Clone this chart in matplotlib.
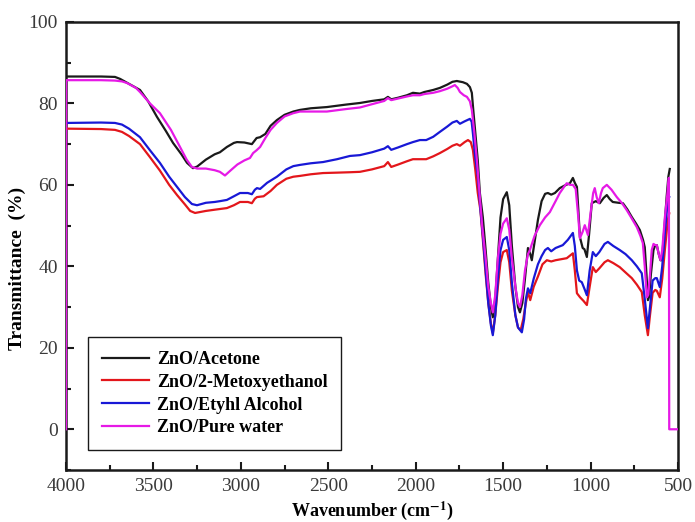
import matplotlib
matplotlib.use("Agg")
import matplotlib.pyplot as plt
from matplotlib.ticker import MultipleLocator

plt.rcParams['font.family'] = ['Liberation Serif', 'DejaVu Serif']
plt.rcParams['mathtext.fontset'] = 'stix'

# ZnO/Acetone (black)
wn_acetone = [4000, 3800, 3720, 3690, 3640, 3577, 3530, 3480, 3430, 3388, 3340, 3308, 3274, 3250, 3200,
              3150, 3120, 3080, 3040, 3022, 2980, 2937, 2910, 2890, 2860, 2830, 2794, 2750, 2700, 2662,
              2600, 2508, 2400, 2319, 2250, 2180, 2159, 2140, 2100, 2050, 2016, 1976, 1950, 1900, 1862,
              1820, 1790, 1765, 1730, 1707, 1690, 1679, 1670, 1662, 1645, 1633, 1616, 1600, 1585, 1570,
              1559, 1545, 1530, 1515, 1500, 1479, 1465, 1450, 1430, 1415, 1404, 1390, 1375, 1358, 1345,
              1336, 1320, 1301, 1280, 1260, 1244, 1225, 1204, 1176, 1150, 1118, 1101, 1090, 1078, 1070,
              1061, 1045, 1035, 1021, 1008, 993, 970, 947, 925, 907, 890, 873, 840, 815, 790,
              764, 740, 718, 700, 690, 680, 672, 665, 655, 640, 630, 621, 610, 600, 592,
              580, 565, 555, 547]
t_acetone = [86.6, 86.6, 86.5, 86.0, 84.8, 83.3, 80.5, 76.7, 73.3, 70.3, 67.5, 65.4, 64.1, 64.5, 66.2,
             67.5, 68.0, 69.3, 70.3, 70.5, 70.4, 70.0, 71.5, 71.7, 72.5, 74.5, 75.9, 77.2, 78.0, 78.4,
             78.8, 79.1, 79.7, 80.1, 80.6, 81.0, 81.6, 81.0, 81.4, 82.0, 82.6, 82.4, 82.8, 83.3, 83.8,
             84.6, 85.3, 85.5, 85.2, 84.8, 84.0, 82.6, 78.0, 74.2, 66.0, 58.0, 52.0, 44.0, 36.0, 30.0,
             27.5, 32.0, 42.0, 52.0, 56.5, 58.2, 55.0, 45.0, 35.0, 30.0, 28.7, 31.0, 37.0, 44.5, 43.0,
             41.5, 46.0, 51.4, 56.0, 57.8, 58.0, 57.6, 58.0, 59.2, 59.8, 60.4, 61.7, 60.5, 59.5, 54.0,
             47.2, 44.5, 44.2, 42.3, 48.0, 55.5, 56.0, 55.5, 56.8, 57.5, 56.5, 55.8, 55.6, 55.5, 54.0,
             52.1, 50.5, 48.9, 46.5, 44.7, 38.0, 31.7, 32.5, 38.0, 44.0, 45.2, 45.2, 43.0, 41.5, 41.5,
             48.0, 57.0, 62.0, 63.9]

# ZnO/2-Metoxyethanol (red)
wn_metoxy = [4000, 3800, 3720, 3680, 3640, 3577, 3520, 3463, 3410, 3365, 3320, 3290, 3262, 3200, 3150,
             3080, 3040, 3005, 2960, 2937, 2920, 2908, 2870, 2830, 2794, 2740, 2700, 2662, 2600, 2530,
             2450, 2376, 2319, 2250, 2180, 2159, 2140, 2100, 2050, 2016, 1976, 1940, 1900, 1862, 1820,
             1790, 1765, 1747, 1720, 1701, 1685, 1673, 1660, 1645, 1630, 1615, 1600, 1585, 1570, 1559,
             1545, 1530, 1515, 1500, 1479, 1465, 1450, 1430, 1415, 1400, 1385, 1370, 1358, 1345, 1325,
             1301, 1275, 1250, 1225, 1200, 1136, 1101, 1090, 1078, 1060, 1040, 1021, 1005, 987, 970,
             950, 920, 901, 870, 833, 800, 764, 735, 707, 690, 672, 660, 645, 630, 621,
             604, 590, 575, 558, 550]
t_metoxy = [73.8, 73.7, 73.5, 73.0, 72.0, 70.0, 66.8, 63.5, 60.0, 57.5, 55.2, 53.6, 53.1, 53.6, 53.9,
            54.3, 55.0, 55.8, 55.8, 55.5, 56.6, 57.0, 57.2, 58.5, 60.0, 61.5, 62.0, 62.2, 62.6, 62.9,
            63.0, 63.1, 63.2, 63.8, 64.6, 65.6, 64.4, 65.0, 65.8, 66.3, 66.3, 66.3, 67.0, 67.8, 68.8,
            69.6, 70.0, 69.6, 70.5, 71.0, 70.5, 68.6, 64.0, 58.0, 53.8, 46.0, 38.0, 31.0, 26.0, 23.6,
            28.0, 35.0, 41.0, 43.5, 44.0, 41.0, 34.0, 28.0, 25.0, 24.3, 27.0, 31.0, 33.7, 31.7, 35.0,
            37.5, 40.5, 41.5, 41.2, 41.5, 42.0, 43.2, 39.0, 33.4, 32.4, 31.5, 30.5, 35.0, 39.8, 38.6,
            39.5, 41.0, 41.5, 40.8, 39.8, 38.5, 37.1, 35.5, 33.7, 28.0, 23.1, 28.0, 33.5, 34.2, 34.0,
            32.4, 37.0, 44.0, 51.4, 53.0]

# ZnO/Etyhl Alcohol (blue)
wn_ethyl = [4000, 3800, 3720, 3680, 3640, 3577, 3520, 3463, 3410, 3365, 3320, 3280, 3251, 3200, 3150,
            3120, 3080, 3040, 3005, 2960, 2937, 2920, 2908, 2890, 2850, 2794, 2740, 2700, 2662, 2600,
            2530, 2450, 2376, 2319, 2250, 2180, 2159, 2140, 2100, 2050, 2016, 1976, 1940, 1900, 1862,
            1820, 1790, 1765, 1747, 1720, 1690, 1680, 1673, 1660, 1645, 1630, 1615, 1600, 1585, 1570,
            1559, 1545, 1530, 1515, 1500, 1479, 1465, 1450, 1430, 1415, 1393, 1380, 1370, 1358, 1345,
            1325, 1301, 1280, 1260, 1244, 1225, 1200, 1159, 1130, 1101, 1090, 1078, 1065, 1050, 1035,
            1021, 1005, 987, 970, 950, 920, 901, 870, 833, 800, 764, 735, 707, 690, 672,
            660, 645, 630, 621, 604, 590, 575, 558, 550]
t_ethyl = [75.2, 75.3, 75.2, 74.8, 73.8, 71.7, 68.5, 65.4, 62.0, 59.5, 57.0, 55.3, 55.0, 55.6, 55.8,
           56.0, 56.3, 57.2, 58.0, 58.0, 57.7, 58.8, 59.2, 59.0, 60.5, 62.0, 63.8, 64.6, 64.9, 65.3,
           65.6, 66.3, 67.1, 67.3, 68.0, 68.9, 69.5, 68.6, 69.2, 70.0, 70.5, 71.0, 71.0, 71.8, 73.0,
           74.3, 75.3, 75.7, 75.0, 75.6, 76.2, 75.5, 72.7, 67.0, 62.0, 54.0, 47.0, 39.0, 31.0, 25.5,
           23.1, 28.0, 37.0, 44.0, 46.5, 47.2, 44.0, 36.0, 28.0, 25.0, 23.8, 27.0, 32.0, 34.6, 33.4,
           37.0, 40.5, 42.5, 44.0, 44.5, 43.7, 44.5, 45.2, 46.5, 48.2, 45.0, 39.0, 36.5, 36.1, 34.5,
           32.9, 39.0, 43.5, 42.5, 43.5, 45.5, 46.0, 45.0, 44.0, 43.0, 41.5, 40.0, 38.3, 32.0, 24.8,
           30.0, 36.5, 37.1, 37.1, 34.9, 40.0, 48.0, 56.3, 57.0]

# ZnO/Pure water (magenta)
wn_water = [4000, 3999, 3800, 3720, 3680, 3651, 3600, 3577, 3520, 3463, 3400, 3348, 3310, 3280, 3250,
            3200, 3150, 3120, 3091, 3060, 3020, 2980, 2948, 2930, 2910, 2890, 2860, 2830, 2794, 2750,
            2700, 2662, 2600, 2508, 2400, 2319, 2250, 2180, 2159, 2140, 2100, 2050, 2016, 1976, 1950,
            1900, 1862, 1820, 1790, 1776, 1760, 1747, 1725, 1707, 1690, 1679, 1665, 1650, 1635, 1620,
            1600, 1585, 1570, 1559, 1545, 1530, 1515, 1500, 1479, 1465, 1450, 1430, 1415, 1404, 1390,
            1375, 1358, 1347, 1320, 1290, 1260, 1233, 1200, 1176, 1150, 1136, 1118, 1101, 1085, 1070,
            1061, 1045, 1033, 1015, 1000, 985, 976, 965, 953, 940, 930, 907, 880, 850, 820,
            793, 765, 735, 715, 701, 690, 678, 670, 660, 650, 640, 630, 621, 610, 600,
            590, 575, 560, 552, 550, 500]
t_water = [0.0, 85.7, 85.7, 85.6, 85.4, 85.0, 83.8, 82.8, 80.0, 77.6, 73.5, 69.3, 66.2, 64.4, 64.0,
           64.0, 63.6, 63.2, 62.3, 63.5, 65.0, 66.0, 66.6, 67.8, 68.5, 69.3, 71.5, 73.5, 75.2, 76.8,
           77.6, 78.0, 78.0, 78.0, 78.6, 79.0, 79.8, 80.6, 81.3, 80.8, 81.2, 81.7, 82.0, 82.0, 82.3,
           82.6, 83.0, 83.6, 84.2, 84.5, 83.8, 82.8, 82.0, 81.6, 80.5, 78.4, 73.0, 66.0, 58.0, 50.0,
           42.0, 35.0, 31.0, 28.7, 33.0, 42.0, 48.0, 50.5, 51.8, 49.0, 42.0, 35.0, 31.0, 30.0, 33.0,
           39.0, 43.0, 44.0, 47.5, 50.1, 52.0, 53.3, 56.0, 58.0, 59.6, 60.4, 60.0, 60.0, 59.0, 52.0,
           46.9, 48.5, 50.1, 47.7, 53.0, 58.0, 59.2, 57.0, 55.5, 58.0, 59.2, 60.0, 58.8, 57.0, 55.5,
           53.8, 51.8, 49.6, 47.5, 45.7, 40.0, 32.4, 33.0, 38.0, 44.0, 45.5, 45.2, 45.2, 43.0, 41.5,
           44.0, 52.0, 58.0, 61.7, 0.0, 0.0]

fig = plt.figure(figsize=(6.95, 5.22), dpi=100)
ax = fig.add_axes([0.095, 0.0996, 0.8805, 0.8584])

ax.plot(wn_acetone, t_acetone, color='#1a1a1a', lw=1.6, label='ZnO/Acetone', zorder=3)
ax.plot(wn_metoxy, t_metoxy, color='#e3161b', lw=1.6, label='ZnO/2-Metoxyethanol', zorder=3)
ax.plot(wn_ethyl, t_ethyl, color='#1818d6', lw=1.6, label='ZnO/Etyhl Alcohol', zorder=3)
ax.plot(wn_water, t_water, color='#e619e6', lw=1.6, label='ZnO/Pure water', zorder=3)

ax.set_xlim(4000, 500)
ax.set_ylim(-10, 100)
ax.xaxis.set_major_locator(MultipleLocator(500))
ax.xaxis.set_minor_locator(MultipleLocator(250))
ax.yaxis.set_major_locator(MultipleLocator(20))
ax.yaxis.set_minor_locator(MultipleLocator(10))
ax.tick_params(which='both', direction='in', top=False, right=False, width=1.5,
               colors='#1a1a1a', labelcolor='#3a3a3a', labelsize=14)
ax.tick_params(which='major', length=6, pad=6)
ax.tick_params(which='minor', length=3.5)
for sp in ax.spines.values():
    sp.set_linewidth(1.8)
    sp.set_color('#1a1a1a')

ax.set_xlabel('Wavenumber (cm$^{\\mathbf{-1}}$)', fontsize=13, fontweight='bold')
ax.xaxis.set_label_coords(0.5, -0.066)
ax.set_ylabel('Transmittance  (%)', fontsize=14, fontweight='bold')
ax.yaxis.set_label_coords(-0.066, 0.449)

leg = ax.legend(loc='lower left', bbox_to_anchor=(0.036, 0.045), borderaxespad=0,
                prop={'weight': 'bold', 'size': 13}, frameon=True, fancybox=False,
                handlelength=2.6, handletextpad=0.45, labelspacing=0.32,
                borderpad=0.75)
leg.get_frame().set_edgecolor('#1a1a1a')
leg.get_frame().set_linewidth(1.0)
leg.get_frame().set_alpha(1)

fig.savefig('out.png', dpi=100)
